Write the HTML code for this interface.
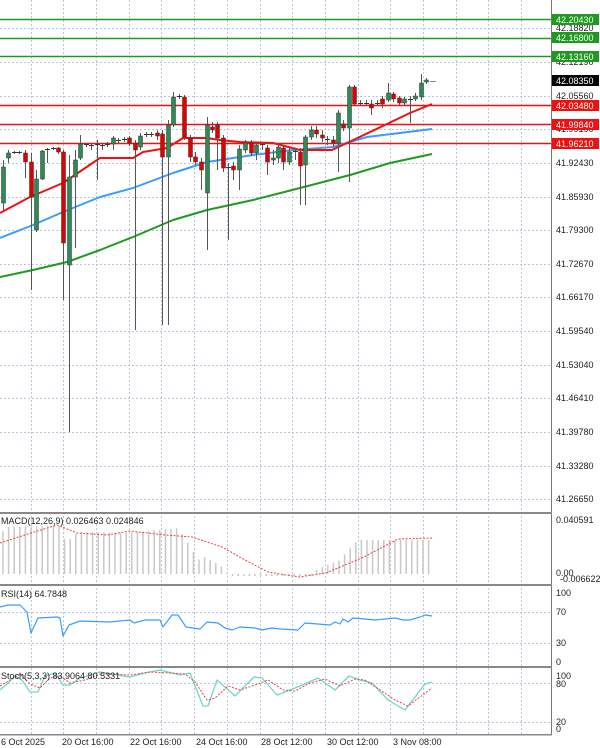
<!DOCTYPE html>
<html><head><meta charset="utf-8"><style>
html,body{margin:0;padding:0;background:#fff;}
svg{display:block;font-family:"Liberation Sans","DejaVu Sans",sans-serif;font-size:9px;}
</style></head><body>
<svg id="c" width="600" height="748" xmlns="http://www.w3.org/2000/svg">
<rect width="600" height="748" fill="#fff"/>
<g id="grid" stroke="#b8c8dc" stroke-width="1" stroke-dasharray="2,2"></g>
<g id="lv"></g>
<g id="main"></g>
<g id="ind"></g>
<!-- panel separators and axis -->
<line x1="551.5" y1="0" x2="551.5" y2="735" stroke="#777" stroke-width="1"/>
<rect x="0" y="512" width="552" height="2" fill="#888"/>
<rect x="0" y="584" width="552" height="2" fill="#888"/>
<rect x="0" y="666" width="552" height="2" fill="#888"/>
<rect x="0" y="734" width="552" height="1.5" fill="#888"/>
<g fill="#222">
<text x="556" y="31">42.18820</text>
<text x="556" y="65">42.12190</text>
<text x="556" y="99">42.05560</text>
<text x="556" y="132">41.99190</text>
<text x="556" y="166">41.92430</text>
<text x="556" y="200">41.85930</text>
<text x="556" y="233">41.79300</text>
<text x="556" y="267">41.72670</text>
<text x="556" y="300">41.66170</text>
<text x="556" y="334">41.59540</text>
<text x="556" y="368">41.53040</text>
<text x="556" y="401">41.46410</text>
<text x="556" y="435">41.39780</text>
<text x="556" y="469">41.33280</text>
<text x="556" y="502">41.26650</text>
<text x="556" y="523">0.040591</text>
<text x="556" y="576">0.00</text>
<text x="560" y="582">-0.006622</text>
<text x="556" y="596">100</text>
<text x="556" y="615">70</text>
<text x="556" y="646">30</text>
<text x="556" y="665">0</text>
<text x="556" y="679">100</text>
<text x="556" y="687">80</text>
<text x="556" y="725">20</text>
<text x="556" y="732">0</text>
</g>
<g fill="#fff">
<rect x="552" y="14" width="47" height="11" fill="#1f9a1f"/><text x="556" y="23">42.20430</text>
<rect x="552" y="32" width="47" height="11" fill="#1f9a1f"/><text x="556" y="41">42.16800</text>
<rect x="552" y="51" width="47" height="11" fill="#1f9a1f"/><text x="556" y="60">42.13160</text>
<rect x="552" y="75" width="47" height="11" fill="#000"/><text x="556" y="84">42.08350</text>
<rect x="552" y="100" width="47" height="11" fill="#f01010"/><text x="556" y="109">42.03480</text>
<rect x="552" y="119" width="47" height="11" fill="#f01010"/><text x="556" y="128">41.99840</text>
<rect x="552" y="138" width="47" height="11" fill="#f01010"/><text x="556" y="147">41.96210</text>
</g>
<g fill="#222">
<text x="1" y="524">MACD(12,26,9) 0.026463 0.024846</text>
<text x="1" y="597">RSI(14) 64.7848</text>
<text x="1" y="679">Stoch(5,3,3) 83.9064 80.5331</text>
<text x="1" y="745">6 Oct 2025</text>
<text x="62" y="745">20 Oct 16:00</text>
<text x="130" y="745">22 Oct 16:00</text>
<text x="196" y="745">24 Oct 16:00</text>
<text x="261" y="745">28 Oct 12:00</text>
<text x="327" y="745">30 Oct 12:00</text>
<text x="393" y="745">3 Nov 08:00</text>
</g>
</svg>
<script>
var NS="http://www.w3.org/2000/svg";
function el(p,t,a){var e=document.createElementNS(NS,t);for(var k in a)e.setAttribute(k,a[k]);document.getElementById(p).appendChild(e);return e;}
// grid
var hy=[28,62,96,129,163,197,230,264,297,331,365,398,432,466,499];
hy.forEach(function(y){el("grid","line",{x1:0,x2:551,y1:y+.5,y2:y+.5});});
[612,643,683,722].forEach(function(y){el("grid","line",{x1:0,x2:551,y1:y+.5,y2:y+.5});});
for(var k=0;k<16;k++){var x=Math.round(30.6+32.7*k)+.5;el("grid","line",{x1:x,x2:x,y1:0,y2:734});}
// levels
[[19,"#1f9a1f"],[38,"#1f9a1f"],[56,"#1f9a1f"],[105,"#f01010"],[124,"#f01010"],[143,"#f01010"]].forEach(function(l){
el("lv","line",{x1:0,x2:552,y1:l[0]+.5,y2:l[0]+.5,stroke:l[1],"stroke-width":1.5});});
el("lv","line",{x1:430,x2:436,y1:81.5,y2:81.5,stroke:"#888"});
function pl(g,pts,c,w,d){el(g,"polyline",{points:pts.map(function(p){return p.join(",");}).join(" "),fill:"none",stroke:c,"stroke-width":w,"stroke-dasharray":d||"none","stroke-linejoin":"round"});}
// MAs
pl("main",[[0,277],[33,270],[67,262],[100,250],[133,237],[173,220],[207,210],[253,200],[300,188],[350,175],[390,163],[432,154]],"#1f9a1f",2);
pl("main",[[0,238],[33,225],[63,212],[100,197],[133,188],[173,173],[207,162],[253,155],[293,150],[333,147],[367,137],[400,133],[432,129]],"#3b9cff",2);
pl("main",[[0,213],[30,197],[63,183],[100,158],[133,158],[143,152],[167,148],[183,138],[207,138],[220,140],[240,142],[273,143],[300,150],[332,150],[347,143],[410,113],[432,104]],"#f01010",2);
// candles: x, bodyTop, bodyBot, wickTop, wickBot, color(g/r/d)
var C=[[3,167,203,160,210,'g'],[8,153,158,150,163,'g'],[14,152,153,151,154,'d'],[19,152,153,151,154,'d'],[25,153,162,150,178,'r'],[31,162,197,153,290,'r'],[36,179,230,170,232,'g'],[42,151,179,150,180,'g'],[47,149,150,148,163,'d'],[53,148,149,147,150,'d'],[58,148,152,147,154,'r'],[63,152,243,150,300,'r'],[69,177,265,155,432,'g'],[75,160,177,150,248,'g'],[80,144,158,135,160,'g'],[86,144,145,143,147,'d'],[91,145,146,143,150,'d'],[97,144,145,140,180,'d'],[102,145,146,143,150,'d'],[107,144,145,142,147,'d'],[113,138,144,136,150,'g'],[118,140,141,138,143,'d'],[124,139,140,137,142,'d'],[129,138,143,136,146,'r'],[135,143,150,140,330,'r'],[140,136,147,133,150,'g'],[146,134,135,132,137,'d'],[151,134,135,132,137,'d'],[157,133,136,130,140,'r'],[162,134,157,130,325,'r'],[168,125,157,120,325,'g'],[173,97,125,92,127,'g'],[179,96,97,94,99,'d'],[184,97,137,95,140,'r'],[190,138,157,135,162,'r'],[195,157,162,152,165,'r'],[201,162,170,158,190,'r'],[207,125,193,117,250,'g'],[212,127,130,122,133,'r'],[217,125,138,122,170,'r'],[223,138,168,135,172,'r'],[228,167,168,163,240,'d'],[233,166,170,162,180,'r'],[239,149,170,145,190,'g'],[245,143,150,140,153,'g'],[251,143,153,140,156,'r'],[256,145,153,142,160,'g'],[262,144,145,142,150,'d'],[267,148,162,145,175,'r'],[273,158,160,150,165,'g'],[278,147,158,144,163,'g'],[283,148,162,145,170,'r'],[289,152,162,148,165,'g'],[295,151,152,148,160,'d'],[300,152,166,148,205,'r'],[305,137,165,135,205,'g'],[311,130,137,126,140,'g'],[316,130,134,126,138,'r'],[322,135,138,130,142,'r'],[327,139,140,136,145,'d'],[333,140,143,136,147,'r'],[338,113,143,110,172,'g'],[343,124,128,120,131,'r'],[349,87,128,85,182,'g'],[354,87,104,85,106,'r'],[360,103,104,100,106,'d'],[366,103,104,100,106,'d'],[371,104,108,100,115,'r'],[377,103,104,100,106,'d'],[382,99,104,96,108,'r'],[388,93,100,83,102,'g'],[393,94,99,92,102,'r'],[399,98,103,96,106,'r'],[404,99,103,97,106,'g'],[410,99,100,96,123,'d'],[415,96,99,93,101,'g'],[421,83,97,74,100,'g'],[426,80,82,78,84,'g']];
C.forEach(function(c){
 el("main","line",{x1:c[0]+.5,x2:c[0]+.5,y1:c[3],y2:c[4],stroke:"#555","stroke-width":1});
 if(c[5]=='d'){el("main","line",{x1:c[0]-2,x2:c[0]+3,y1:c[1]+.5,y2:c[1]+.5,stroke:"#333"});}
 else el("main","rect",{x:c[0]-1.5,y:c[1],width:4,height:Math.max(1,c[2]-c[1]),fill:c[5]=='g'?"#2e8b57":"#e00000",stroke:"#333","stroke-width":.5});
});
// MACD histogram
function macdTop(x){var t=[[0,538],[5,527],[60,526],[66,543],[78,532],[128,533],[178,528],[188,543],[198,560],[204,557],[220,565],[228,574],[310,574],[318,569],[340,560],[349,549],[358,540],[434,540]];
 for(var i=0;i<t.length-1;i++){if(x>=t[i][0]&&x<=t[i+1][0]){var f=(x-t[i][0])/(t[i+1][0]-t[i][0]);return t[i][1]+f*(t[i+1][1]-t[i][1]);}}return 574;}
for(var x=3;x<=433;x+=5.6){var t=macdTop(x);var y1=Math.min(t,574),y2=Math.max(t,574);if(y2-y1<1){y1=574;y2=576;}
 el("ind","line",{x1:x,x2:x,y1:y1,y2:y2,stroke:"#c8c8c8","stroke-width":1.5});}
pl("ind",[[0,543],[31,533],[57,525],[77,533],[107,535],[130,531],[165,535],[192,537],[222,547],[245,560],[268,572],[299,577],[326,573],[364,557],[398,539],[433,538]],"#f04040",1,"2,1.5");
// RSI
pl("ind",[[0,607],[8,605],[20,605],[27,612],[31,633],[38,618],[57,617],[60,618],[63,636],[69,625],[80,621],[110,622],[130,620],[134,623],[145,620],[160,620],[163,627],[172,615],[178,615],[186,627],[200,629],[207,622],[218,623],[225,628],[232,630],[240,627],[255,628],[262,630],[272,628],[280,629],[298,630],[305,623],[318,624],[330,625],[335,622],[340,624],[343,619],[348,622],[353,618],[365,619],[375,620],[385,619],[395,618],[403,620],[410,620],[420,617],[425,615],[432,616]],"#3b9cff",1.2);
// Stoch
pl("ind",[[0,690],[8,683],[15,676],[22,680],[30,692],[38,692],[45,676],[55,673],[63,685],[70,685],[80,678],[100,672],[130,677],[145,673],[160,670],[180,675],[190,673],[203,706],[208,706],[217,680],[235,696],[254,677],[262,678],[277,695],[290,690],[300,686],[318,678],[335,690],[349,676],[360,680],[372,683],[388,700],[405,710],[425,684],[432,682]],"#6fd6cc",1.3);
pl("ind",[[0,686],[10,680],[20,674],[30,684],[40,688],[50,678],[60,676],[70,683],[85,680],[100,674],[130,675],[150,672],[170,673],[185,674],[195,682],[207,700],[215,698],[228,686],[240,690],[258,684],[268,680],[283,690],[295,691],[310,683],[325,679],[340,686],[355,679],[365,680],[380,690],[395,700],[408,706],[432,688]],"#f04040",1,"2,1.5");
</script>
</body></html>
